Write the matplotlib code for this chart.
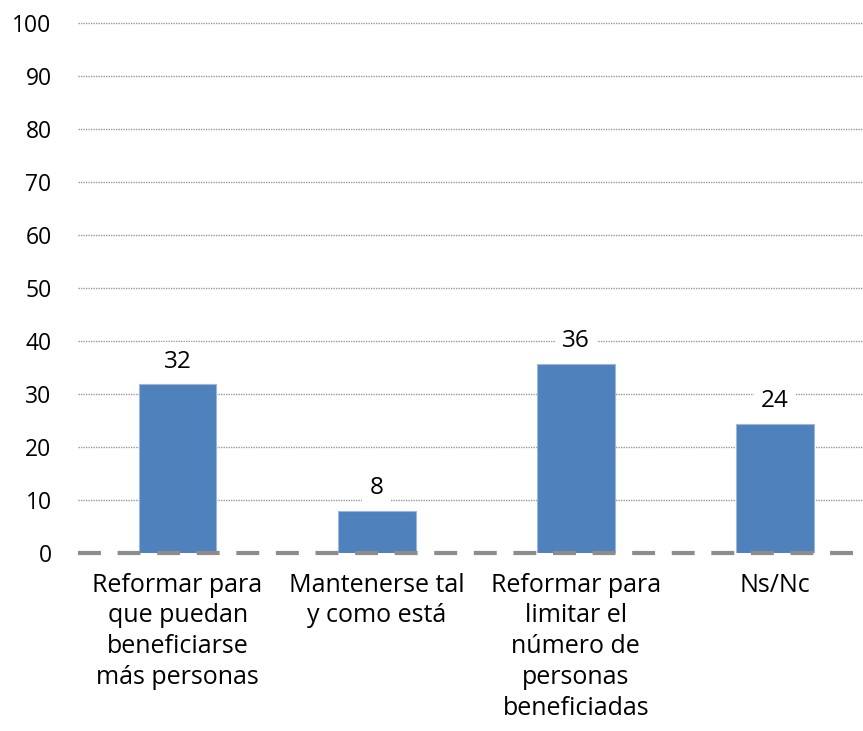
import matplotlib
matplotlib.use('Agg')
import matplotlib.pyplot as plt

# Data
categories = ['Reformar para\nque puedan\nbeneficiarse\nmás personas',
              'Mantenerse tal\ny como está',
              'Reformar para\nlimitar el\nnúmero de\npersonas\nbeneficiadas',
              'Ns/Nc']
values = [31.9, 8.0, 35.7, 24.4]
yticks = [0, 10, 20, 30, 40, 50, 60, 70, 80, 90, 100]

plt.rcParams['font.family'] = ['Open Sans', 'DejaVu Sans']

fig = plt.figure(figsize=(8.63, 7.31), dpi=100)
ax = fig.add_axes([78 / 863, 177.7 / 731, (874.5 - 78) / 863, 530 / 731])

x = list(range(len(categories)))
bars = ax.bar(x, values, width=0.39, color='#4F81BD', edgecolor='#9DB7DB',
              linewidth=0.8, zorder=2)

for b, v in zip(bars, values):
    ax.text(b.get_x() + b.get_width() / 2, v + 2.0, f'{round(v):.0f}',
            ha='center', va='bottom', fontsize=17.5, zorder=3,
            bbox=dict(boxstyle='square,pad=0.3', facecolor='white', edgecolor='none'))

# dashed zero line on top of bars
ax.axhline(0, color='#8C8C8C', linewidth=3, linestyle=(0, (5.5, 4)), zorder=4, clip_on=False)

ax.set_xlim(-0.5, len(categories) - 0.5)
ax.set_ylim(0, 100)
ax.set_yticks(yticks)
ax.set_yticklabels([str(t) for t in yticks], fontsize=16.5)
ax.set_xticks(x)
ax.set_xticklabels(categories, fontsize=18, linespacing=1.3, va='top')
ax.tick_params(axis='both', length=0)
ax.tick_params(axis='y', pad=19)
ax.tick_params(axis='x', pad=14)

for t in yticks[1:]:
    ax.axhline(t, color='#999999', linewidth=1.0, linestyle=(0, (1, 0.8)), zorder=1, clip_on=False)

for s in ax.spines.values():
    s.set_visible(False)

fig.savefig('out.png', dpi=100, facecolor='white')
